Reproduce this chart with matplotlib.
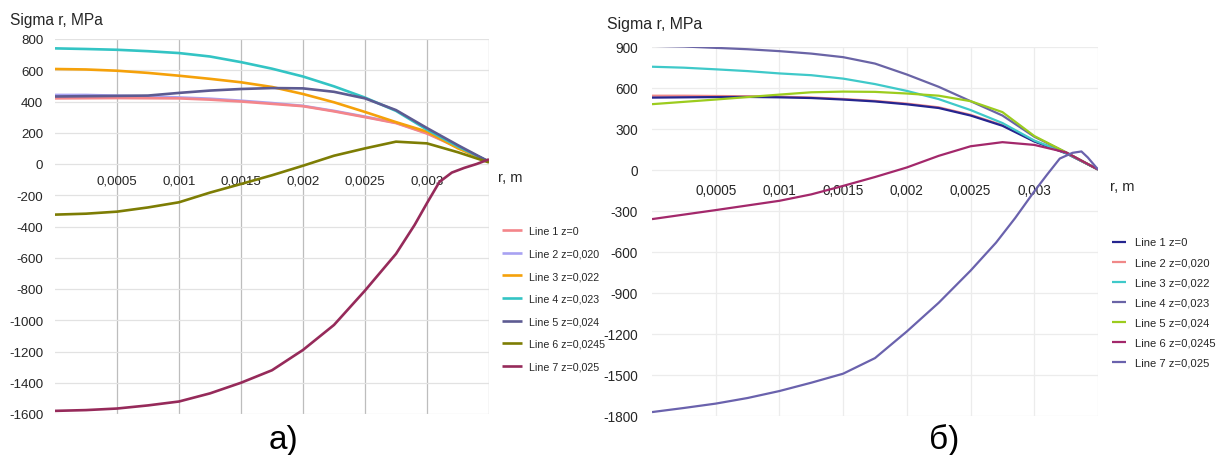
import matplotlib
matplotlib.use('Agg')
import matplotlib.pyplot as plt

plt.rcParams['font.family'] = ['Liberation Sans', 'DejaVu Sans']

# ---------------- data ----------------
x_ticks = [0.0005, 0.001, 0.0015, 0.002, 0.0025, 0.003, 0.0035]
x_tick_labels = ['0,0005', '0,001', '0,0015', '0,002', '0,0025', '0,003', '']
x_grid = [0, 0.00025, 0.0005, 0.00075, 0.001, 0.00125, 0.0015, 0.00175,
          0.002, 0.00225, 0.0025, 0.00275, 0.003, 0.00325, 0.0035]

line_labels = ['Line 1 z=0', 'Line 2 z=0,020', 'Line 3 z=0,022', 'Line 4 z=0,023',
               'Line 5 z=0,024', 'Line 6 z=0,0245', 'Line 7 z=0,025']

# panel a)
a_y_ticks = [800, 600, 400, 200, 0, -200, -400, -600, -800, -1000, -1200, -1400, -1600]
a_line1 = [420, 421, 422, 421, 420, 412, 400, 385, 370, 337, 300, 262, 195, 105, 15]
a_line2 = [442, 442, 437, 432, 426, 418, 405, 390, 372, 340, 303, 264, 198, 108, 15]
a_line3 = [608, 605, 597, 583, 565, 545, 523, 493, 448, 395, 333, 268, 207, 100, 15]
a_line4 = [740, 736, 731, 722, 710, 688, 652, 610, 560, 497, 425, 340, 220, 112, 15]
a_line5 = [432, 434, 436, 438, 455, 470, 480, 486, 484, 462, 420, 345, 230, 120, 15]
a_line6 = [-324, -318, -305, -278, -245, -183, -128, -72, -11, 53, 100, 143, 132, 75, 10]
a_x7 = [0, 0.00025, 0.0005, 0.00075, 0.001, 0.00125, 0.0015, 0.00175, 0.002,
        0.00225, 0.0025, 0.00275, 0.0029, 0.003, 0.0031, 0.0032, 0.0033, 0.0034, 0.0035]
a_line7 = [-1580, -1575, -1565, -1545, -1520, -1468, -1400, -1320, -1190,
           -1030, -810, -575, -390, -250, -115, -55, -25, 0, 30]

# panel б)
b_y_ticks = [900, 600, 300, 0, -300, -600, -900, -1200, -1500, -1800]
b_line1 = [526, 528, 530, 531, 528, 523, 512, 498, 477, 450, 395, 320, 205, 118, 0]
b_line2 = [540, 540, 538, 536, 533, 527, 516, 502, 482, 455, 400, 325, 208, 120, 0]
b_line3 = [752, 745, 733, 720, 703, 690, 665, 625, 575, 515, 435, 340, 212, 120, 0]
b_line4 = [905, 900, 890, 880, 866, 848, 822, 775, 695, 605, 500, 395, 240, 125, 0]
b_line5 = [478, 495, 512, 530, 548, 565, 570, 568, 556, 540, 500, 420, 245, 125, 0]
b_line6 = [-363, -330, -297, -263, -229, -182, -120, -55, 15, 100, 170, 200, 180, 125, 0]
b_x7 = [0, 0.00025, 0.0005, 0.00075, 0.001, 0.00125, 0.0015, 0.00175, 0.002,
        0.00225, 0.0025, 0.0027, 0.00285, 0.003, 0.0031, 0.0032, 0.0033, 0.00337, 0.00342, 0.0035]
b_line7 = [-1775, -1745, -1713, -1672, -1621, -1560, -1494, -1380, -1185,
           -975, -740, -535, -355, -160, -38, 80, 122, 132, 88, 0]

a_colors = ['#f4858a', '#a8a2f2', '#f5a10a', '#33c4c4', '#5d5b92', '#7d7d04', '#962a5a']
b_colors = ['#25258f', '#f08888', '#3fc9c9', '#6a64a6', '#9ccc1e', '#a3286b', '#6a62ad']

TXT = '#262626'

fig = plt.figure(figsize=(12.19, 4.56), dpi=100)
W, H = 1219.0, 456.0


def px_axes(x0, y0, x1, y1):
    return fig.add_axes([x0 / W, 1 - y1 / H, (x1 - x0) / W, (y1 - y0) / H])


def style_axes(ax, yticks, ylim, vgrid_color, hgrid_color, fs, xpad, ypad):
    ax.set_xlim(0, 0.0035)
    ax.set_ylim(*ylim)
    ax.set_yticks(yticks)
    ax.set_yticklabels([str(v) for v in yticks])
    ax.set_xticks(x_ticks)
    ax.set_xticklabels(x_tick_labels)
    for s in ['top', 'right', 'left']:
        ax.spines[s].set_visible(False)
    ax.spines['bottom'].set_position(('data', 0))
    ax.spines['bottom'].set_color('none')
    ax.tick_params(axis='both', length=0, labelsize=fs, colors=TXT)
    ax.tick_params(axis='x', pad=xpad)
    ax.tick_params(axis='y', pad=ypad)
    ax.xaxis.grid(True, color=vgrid_color, linewidth=0.9)
    ax.yaxis.grid(True, color=hgrid_color, linewidth=0.9)
    ax.set_axisbelow(True)
    for lab in ax.get_xticklabels():
        lab.set_zorder(5)


# ---- panel a
axa = px_axes(55, 40, 489, 415)
style_axes(axa, a_y_ticks, (-1600, 800), '#bdbdbd', '#e2e2e2', 9.6, 7.5, 8.5)
a_series = [(x_grid, a_line1), (x_grid, a_line2), (x_grid, a_line3), (x_grid, a_line4),
            (x_grid, a_line5), (x_grid, a_line6), (a_x7, a_line7)]
a_handles = []
order_z = [3, 2, 4, 5, 6, 7, 8]
for (xs, ys), c, lab, z in zip(a_series, a_colors, line_labels, order_z):
    h, = axa.plot(xs, ys, color=c, lw=1.9, label=lab, zorder=z, solid_capstyle='butt')
    a_handles.append(h)

fig.legend(handles=a_handles, labels=line_labels, loc='upper left',
           bbox_to_anchor=(502 / W, 1 - 227.2 / H), frameon=False, fontsize=7.7,
           borderpad=0, borderaxespad=0, handlelength=1.87, handletextpad=0.65,
           labelspacing=1.17, labelcolor=TXT)

fig.text(10 / W, 1 - 20 / H, 'Sigma r, MPa', fontsize=11.2, color=TXT, va='center', ha='left')
fig.text(498 / W, 1 - 178 / H, 'r, m', fontsize=10.5, color=TXT, va='center', ha='left')
fig.text(283 / W, 1 - 441 / H, 'a)', fontsize=24, color='black', va='center', ha='center')

# ---- panel b
axb = px_axes(652, 47.5, 1098, 416.5)
style_axes(axb, b_y_ticks, (-1800, 900), '#ececec', '#ececec', 9.8, 9.5, 10)
b_series = [(x_grid, b_line1), (x_grid, b_line2), (x_grid, b_line3), (x_grid, b_line4),
            (x_grid, b_line5), (x_grid, b_line6), (b_x7, b_line7)]
b_handles = []
order_zb = [4, 3, 5, 6, 7, 8, 9]
for (xs, ys), c, lab, z in zip(b_series, b_colors, line_labels, order_zb):
    h, = axb.plot(xs, ys, color=c, lw=1.6, label=lab, zorder=z, solid_capstyle='butt')
    b_handles.append(h)

fig.legend(handles=b_handles, labels=line_labels, loc='upper left',
           bbox_to_anchor=(1112 / W, 1 - 238.5 / H), frameon=False, fontsize=8.1,
           borderpad=0, borderaxespad=0, handlelength=1.25, handletextpad=0.8,
           labelspacing=0.89, labelcolor=TXT)

fig.text(607 / W, 1 - 25 / H, 'Sigma r, MPa', fontsize=11.4, color=TXT, va='center', ha='left')
fig.text(1110 / W, 1 - 187 / H, 'r, m', fontsize=10.5, color=TXT, va='center', ha='left')
fig.text(944 / W, 1 - 440 / H, 'б)', fontsize=24, color='black', va='center', ha='center')

fig.savefig('out.png', dpi=100, facecolor='white')
